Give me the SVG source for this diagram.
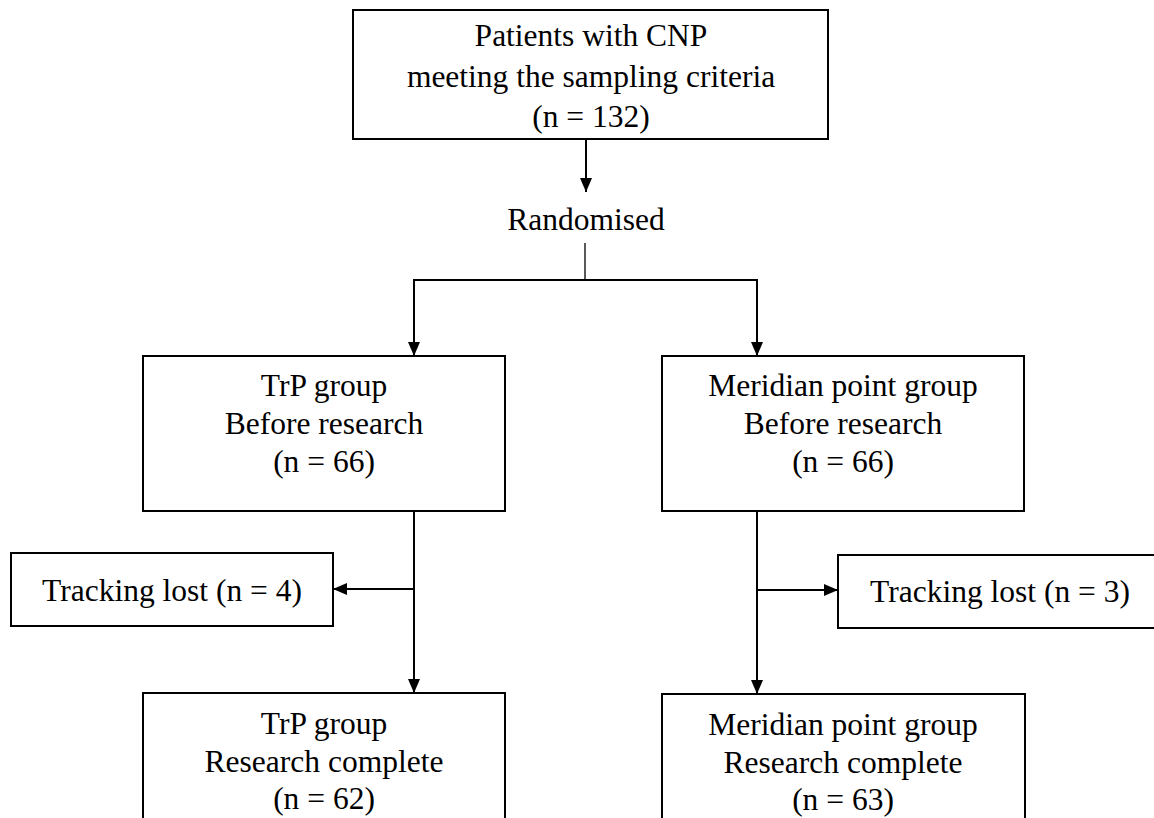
<svg xmlns="http://www.w3.org/2000/svg" width="1154" height="818" viewBox="0 0 1154 818">
<style>
.box{fill:#fff;stroke:#000;stroke-width:2}
.t{font-family:"Liberation Serif","Times New Roman",serif;font-size:31.5px;fill:#000;text-anchor:middle}
.ln{stroke:#000;stroke-width:2;fill:none}
.thin{stroke:#000;stroke-width:1.3;fill:none}
</style>
<defs>
<marker id="ah" viewBox="0 0 14 12" refX="14" refY="6" markerWidth="14" markerHeight="12" markerUnits="userSpaceOnUse" orient="auto">
<path d="M0,0 L14,6 L0,12 Z" fill="#000"/>
</marker>
</defs>
<rect width="1154" height="818" fill="#fff"/>
<g id="connectors">
<line class="ln" x1="586" y1="139" x2="586" y2="192" marker-end="url(#ah)"/>
<line class="thin" x1="585" y1="243" x2="585" y2="280"/>
<polyline class="ln" points="414,356 414,280 757,280 757,356" marker-end="url(#ah)"/>
<line class="ln" x1="414" y1="281" x2="414" y2="356" marker-end="url(#ah)"/>
<line class="ln" x1="414" y1="511" x2="414" y2="693" marker-end="url(#ah)"/>
<line class="ln" x1="414" y1="589" x2="333" y2="589" marker-end="url(#ah)"/>
<line class="ln" x1="757" y1="511" x2="757" y2="694" marker-end="url(#ah)"/>
<line class="ln" x1="757" y1="590" x2="838" y2="590" marker-end="url(#ah)"/>
</g>
<g id="n_top">
<rect class="box" x="353" y="10" width="475" height="129"/>
<text class="t" x="591" y="46">Patients with CNP</text>
<text class="t" x="591" y="87">meeting the sampling criteria</text>
<text class="t" x="591" y="127">(n = 132)</text>
</g>
<g id="n_rand">
<text class="t" x="586" y="230">Randomised</text>
</g>
<g id="n_trp_before">
<rect class="box" x="143" y="356" width="362" height="155"/>
<text class="t" x="324" y="396">TrP group</text>
<text class="t" x="324" y="434">Before research</text>
<text class="t" x="324" y="472">(n = 66)</text>
</g>
<g id="n_mer_before">
<rect class="box" x="662" y="356" width="362" height="155"/>
<text class="t" x="843" y="396">Meridian point group</text>
<text class="t" x="843" y="434">Before research</text>
<text class="t" x="843" y="472">(n = 66)</text>
</g>
<g id="n_lost_left">
<rect class="box" x="11" y="553" width="322" height="73"/>
<text class="t" x="172" y="601">Tracking lost (n = 4)</text>
</g>
<g id="n_lost_right">
<rect class="box" x="838" y="555" width="322" height="73"/>
<text class="t" x="1000" y="602">Tracking lost (n = 3)</text>
</g>
<g id="n_trp_after">
<rect class="box" x="143" y="693" width="362" height="160"/>
<text class="t" x="324" y="734">TrP group</text>
<text class="t" x="324" y="772">Research complete</text>
<text class="t" x="324" y="809">(n = 62)</text>
</g>
<g id="n_mer_after">
<rect class="box" x="662" y="694" width="363" height="160"/>
<text class="t" x="843" y="735">Meridian point group</text>
<text class="t" x="843" y="773">Research complete</text>
<text class="t" x="843" y="810">(n = 63)</text>
</g>
</svg>
